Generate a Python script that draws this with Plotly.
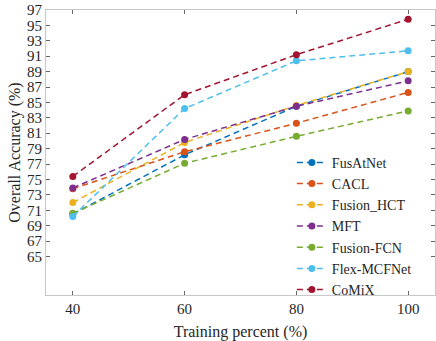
import plotly.graph_objects as go

TRAIN_PCT = [40, 60, 80, 100]

METHODS = ['FusAtNet', 'CACL', 'Fusion_HCT', 'MFT', 'Fusion-FCN', 'Flex-MCFNet', 'CoMiX']
FUSATNET = [70.5, 78.2, 84.5, 89.0]
CACL = [73.8, 78.6, 82.3, 86.3]
FUSION_HCT = [72.0, 79.8, 84.6, 89.0]
MFT = [73.9, 80.2, 84.5, 87.8]
FUSION_FCN = [70.6, 77.1, 80.6, 83.9]
FLEX_MCFNET = [70.2, 84.2, 90.4, 91.7]
COMIX = [75.4, 86.0, 91.2, 95.8]

Y_TICKS = list(range(65, 98, 2))

COLOURS = ['#0072BD', '#D95319', '#EDB120', '#7E2F8E', '#77AC30', '#4DBEEE', '#A2142F']
FONT = 'Liberation Serif'
TEXT_COLOUR = '#262626'

series = [FUSATNET, CACL, FUSION_HCT, MFT, FUSION_FCN, FLEX_MCFNET, COMIX]

fig = go.Figure()
for name, vals, col in zip(METHODS, series, COLOURS):
    fig.add_trace(go.Scatter(x=TRAIN_PCT, y=vals, name=name, mode='lines+markers',
                             line=dict(color=col, width=1.5, dash='6px,4px'),
                             marker=dict(color=col, size=7)))

axis_style = dict(showline=True, linecolor='#c8c8c8', linewidth=1, mirror='ticks',
                  ticks='inside', ticklen=4, tickcolor='#666666', showgrid=False,
                  zeroline=False, tickfont=dict(family=FONT, size=15, color=TEXT_COLOUR))

fig.update_xaxes(range=[35.2, 104.8], tickvals=TRAIN_PCT,
                 title=dict(text='Training percent (%)', standoff=10,
                            font=dict(family=FONT, size=16, color=TEXT_COLOUR)),
                 **axis_style)
fig.update_yaxes(range=[60, 97], tickvals=Y_TICKS,
                 title=dict(text='Overall Accuracy (%)', standoff=2,
                            font=dict(family=FONT, size=16, color=TEXT_COLOUR)),
                 **axis_style)

fig.update_layout(width=436, height=341, plot_bgcolor='white', paper_bgcolor='white',
                  margin=dict(l=46, r=1, t=10, b=46),
                  legend=dict(x=0.632, y=0.52, xanchor='left', yanchor='top',
                              bgcolor='rgba(0,0,0,0)', tracegroupgap=0,
                              font=dict(family=FONT, size=14, color=TEXT_COLOUR)),
                  showlegend=True)

# drop the browser's default body margin so the figure sits at the page corner
fig.write_html("out.html", config={'displayModeBar': False},
               post_script="document.body.style.margin='0';")
